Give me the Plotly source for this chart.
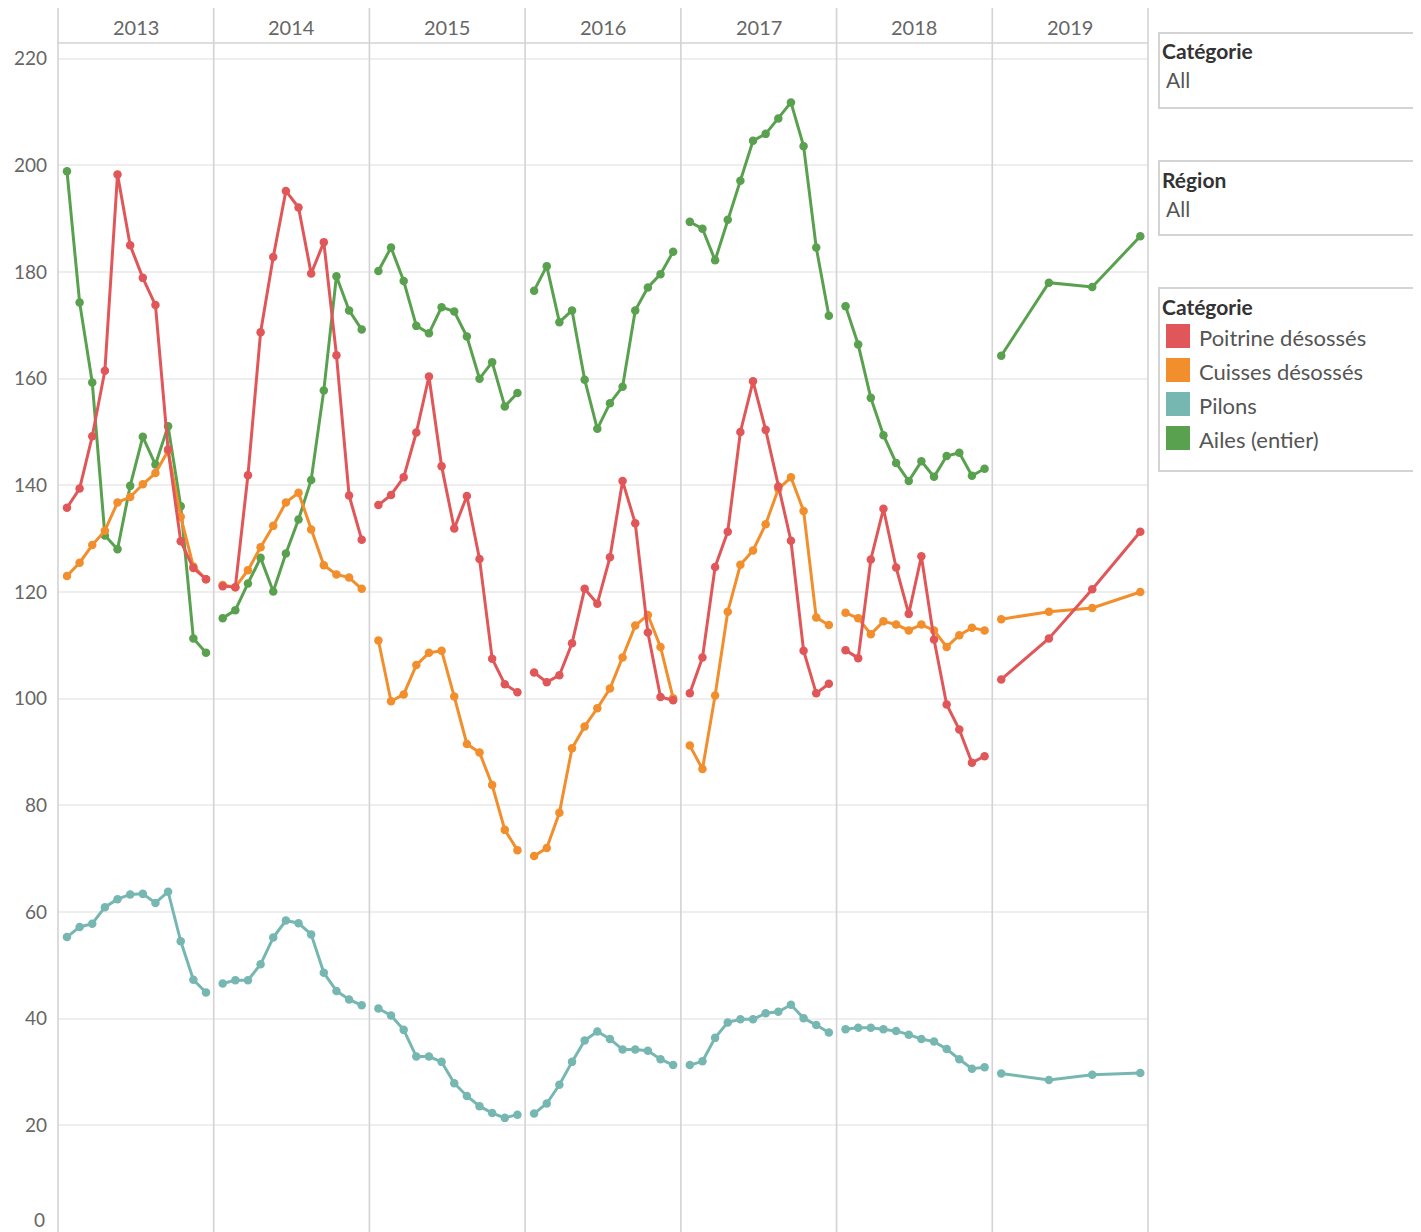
import plotly.graph_objects as go
from plotly.subplots import make_subplots

# ---------------- DATA ----------------
years = [2013, 2014, 2015, 2016, 2017, 2018, 2019]
months = [1, 2, 3, 4, 5, 6, 7, 8, 9, 10, 11, 12]
months_2019 = [1, 4.77, 8.2, 12]  # sparse observations in 2019 (month position)

categories = ["Poitrine désossés", "Cuisses désossés", "Pilons", "Ailes (entier)"]
colors = ["#e15759", "#f28e2b", "#76b7b2", "#59a14f"]

poitrine = [
    [135.8, 139.4, 149.2, 161.5, 198.3, 185.0, 178.9, 173.8, 146.7, 129.5, 124.5, 122.4],
    [121.1, 120.9, 141.9, 168.7, 182.8, 195.2, 192.1, 179.7, 185.6, 164.4, 138.1, 129.8],
    [136.3, 138.2, 141.5, 149.9, 160.4, 143.6, 131.9, 138.0, 126.2, 107.5, 102.7, 101.2],
    [104.9, 103.1, 104.4, 110.4, 120.6, 117.8, 126.5, 140.8, 132.9, 112.4, 100.3, 99.7],
    [101.0, 107.7, 124.7, 131.3, 150.0, 159.5, 150.4, 139.8, 129.6, 109.0, 101.0, 102.8],
    [109.1, 107.6, 126.1, 135.6, 124.6, 115.9, 126.7, 111.1, 98.9, 94.2, 88.0, 89.2],
    [103.6, 111.3, 120.5, 131.3],
]
cuisses = [
    [123.0, 125.5, 128.8, 131.5, 136.8, 137.8, 140.2, 142.3, 146.5, 134.1, 124.8, 122.4],
    [121.3, 120.9, 124.1, 128.4, 132.4, 136.8, 138.6, 131.7, 125.0, 123.3, 122.7, 120.6],
    [110.9, 99.5, 100.8, 106.3, 108.6, 109.0, 100.4, 91.5, 89.9, 83.8, 75.4, 71.6],
    [70.5, 72.0, 78.6, 90.7, 94.8, 98.2, 101.9, 107.7, 113.7, 115.7, 109.7, 100.1],
    [91.2, 86.8, 100.6, 116.3, 125.1, 127.8, 132.7, 139.3, 141.5, 135.2, 115.2, 113.8],
    [116.1, 115.1, 112.1, 114.5, 113.9, 112.8, 113.9, 112.8, 109.7, 111.9, 113.3, 112.8],
    [114.9, 116.3, 117.0, 120.0],
]
pilons = [
    [55.3, 57.2, 57.8, 60.9, 62.4, 63.3, 63.4, 61.7, 63.8, 54.5, 47.3, 44.9],
    [46.6, 47.2, 47.2, 50.2, 55.2, 58.4, 57.9, 55.8, 48.6, 45.2, 43.6, 42.5],
    [41.9, 40.6, 37.9, 32.9, 32.9, 31.9, 27.9, 25.5, 23.6, 22.3, 21.4, 22.0],
    [22.2, 24.1, 27.6, 31.9, 35.9, 37.6, 36.2, 34.2, 34.2, 34.0, 32.4, 31.3],
    [31.3, 32.0, 36.4, 39.3, 39.9, 39.9, 41.0, 41.3, 42.6, 40.1, 38.8, 37.4],
    [38.0, 38.3, 38.3, 38.0, 37.7, 37.0, 36.2, 35.7, 34.3, 32.4, 30.6, 30.9],
    [29.7, 28.5, 29.5, 29.8],
]
ailes = [
    [198.9, 174.3, 159.3, 130.6, 128.0, 139.9, 149.1, 143.9, 151.1, 136.1, 111.3, 108.6],
    [115.1, 116.6, 121.6, 126.4, 120.1, 127.2, 133.6, 141.0, 157.8, 179.2, 172.8, 169.2],
    [180.2, 184.6, 178.3, 169.9, 168.5, 173.4, 172.6, 167.9, 160.0, 163.1, 154.8, 157.3],
    [176.5, 181.1, 170.6, 172.8, 159.8, 150.6, 155.4, 158.5, 172.8, 177.1, 179.6, 183.8],
    [189.4, 188.1, 182.2, 189.8, 197.1, 204.6, 205.9, 208.8, 211.8, 203.6, 184.6, 171.8],
    [173.6, 166.4, 156.4, 149.4, 144.2, 140.8, 144.5, 141.6, 145.5, 146.1, 141.8, 143.1],
    [164.3, 178.0, 177.2, 186.7],
]
series = [poitrine, cuisses, pilons, ailes]
y_ticks = [20, 40, 60, 80, 100, 120, 140, 160, 180, 200, 220]

# ---------------- FIGURE ----------------
PAGE_OFF = 8            # the html body margin offsets the figure in the page
W, H = 1421 - PAGE_OFF, 1232 - PAGE_OFF
PLOT_L, PLOT_T, PLOT_R, PLOT_B = 58, 44, 1148, 1232   # plot area in page pixels
L, T = PLOT_L - PAGE_OFF, PLOT_T - PAGE_OFF
PW, PH = PLOT_R - PLOT_L, PLOT_B - PLOT_T
R, B = W - L - PW, H - T - PH
FONT = "Lato"


def px_x(X):
    return (X - PLOT_L) / PW


def px_y(Y):
    return (PLOT_B - Y) / PH


fig = make_subplots(rows=1, cols=len(years), shared_yaxes=True, horizontal_spacing=0)

draw_order = [3, 2, 1, 0]  # Ailes at bottom, Poitrine on top
for yi, yr in enumerate(years):
    xs = months_2019 if yr == 2019 else months
    for ci in draw_order:
        fig.add_trace(
            go.Scatter(
                x=xs,
                y=series[ci][yi],
                mode="lines+markers",
                line=dict(color=colors[ci], width=3),
                marker=dict(color=colors[ci], size=8.5),
                name=categories[ci],
                showlegend=False,
                hoverinfo="skip",
            ),
            row=1,
            col=yi + 1,
        )

for i in range(len(years)):
    fig.update_xaxes(
        range=[0.29, 12.61], showgrid=False, zeroline=False, showticklabels=False,
        showline=False, row=1, col=i + 1,
    )
fig.update_yaxes(
    range=[0, 222.75], tickvals=y_ticks, showgrid=True, gridcolor="#eeeeee", gridwidth=1.5,
    zeroline=False, showline=False,
)
fig.update_yaxes(
    tickfont=dict(family=FONT, size=19, color="#666666"), ticklabelstandoff=10,
    row=1, col=1,
)

shapes = []
annotations = []
line_col = "#d3d3d3"
panel_w = PW / len(years)
# panel separators
for i in range(len(years) + 1):
    X = PLOT_L + i * panel_w
    shapes.append(dict(type="line", xref="paper", yref="paper", x0=px_x(X), x1=px_x(X),
                       y0=px_y(8), y1=px_y(1240), line=dict(color=line_col, width=1.6)))
# header bottom line
shapes.append(dict(type="line", xref="paper", yref="paper", x0=0, x1=1,
                   y0=px_y(43), y1=px_y(43), line=dict(color=line_col, width=1.6)))
# year headers
for i, yr in enumerate(years):
    annotations.append(dict(text=str(yr), xref="paper", yref="paper",
                            x=(i + 0.5) / len(years), y=px_y(27), showarrow=False,
                            xanchor="center", yanchor="middle",
                            font=dict(family=FONT, size=20, color="#666666")))
# zero label (kept inside the view)
annotations.append(dict(text="0", xref="paper", yref="paper", x=px_x(47), y=px_y(1219),
                        showarrow=False, xanchor="right", yanchor="middle",
                        font=dict(family=FONT, size=19, color="#666666")))

# filter cards and legend card
cards = [(33, 108, "Catégorie", "All"), (161, 235, "Région", "All")]
for top, bot, title, val in cards:
    shapes.append(dict(type="rect", xref="paper", yref="paper", x0=px_x(1159), x1=px_x(1440),
                       y0=px_y(bot), y1=px_y(top), line=dict(color="#d4d4d4", width=2),
                       fillcolor="white"))
    annotations.append(dict(text="<b>" + title + "</b>", xref="paper", yref="paper",
                            x=px_x(1160), y=px_y(top + 18), showarrow=False, xanchor="left",
                            yanchor="middle", font=dict(family=FONT, size=21, color="#333333")))
    annotations.append(dict(text=val, xref="paper", yref="paper", x=px_x(1164),
                            y=px_y(top + 47), showarrow=False, xanchor="left", yanchor="middle",
                            font=dict(family=FONT, size=21, color="#555555")))

shapes.append(dict(type="rect", xref="paper", yref="paper", x0=px_x(1159), x1=px_x(1440),
                   y0=px_y(471), y1=px_y(288), line=dict(color="#d4d4d4", width=2),
                   fillcolor="white"))
annotations.append(dict(text="<b>Catégorie</b>", xref="paper", yref="paper", x=px_x(1160),
                        y=px_y(306), showarrow=False, xanchor="left", yanchor="middle",
                        font=dict(family=FONT, size=21, color="#333333")))
for k, (cat, col) in enumerate(zip(categories, colors)):
    cy = 336 + k * 34
    shapes.append(dict(type="rect", xref="paper", yref="paper", x0=px_x(1166), x1=px_x(1190),
                       y0=px_y(cy + 12), y1=px_y(cy - 12), line=dict(width=0), fillcolor=col))
    annotations.append(dict(text=cat, xref="paper", yref="paper", x=px_x(1197), y=px_y(cy + 1),
                            showarrow=False, xanchor="left", yanchor="middle",
                            font=dict(family=FONT, size=22, color="#555555")))

fig.update_layout(
    width=W, height=H,
    margin=dict(l=L, r=R, t=T, b=B, pad=0),
    paper_bgcolor="white", plot_bgcolor="white",
    shapes=shapes, annotations=annotations,
    showlegend=False,
    font=dict(family=FONT),
)

fig.write_html("out.html")
